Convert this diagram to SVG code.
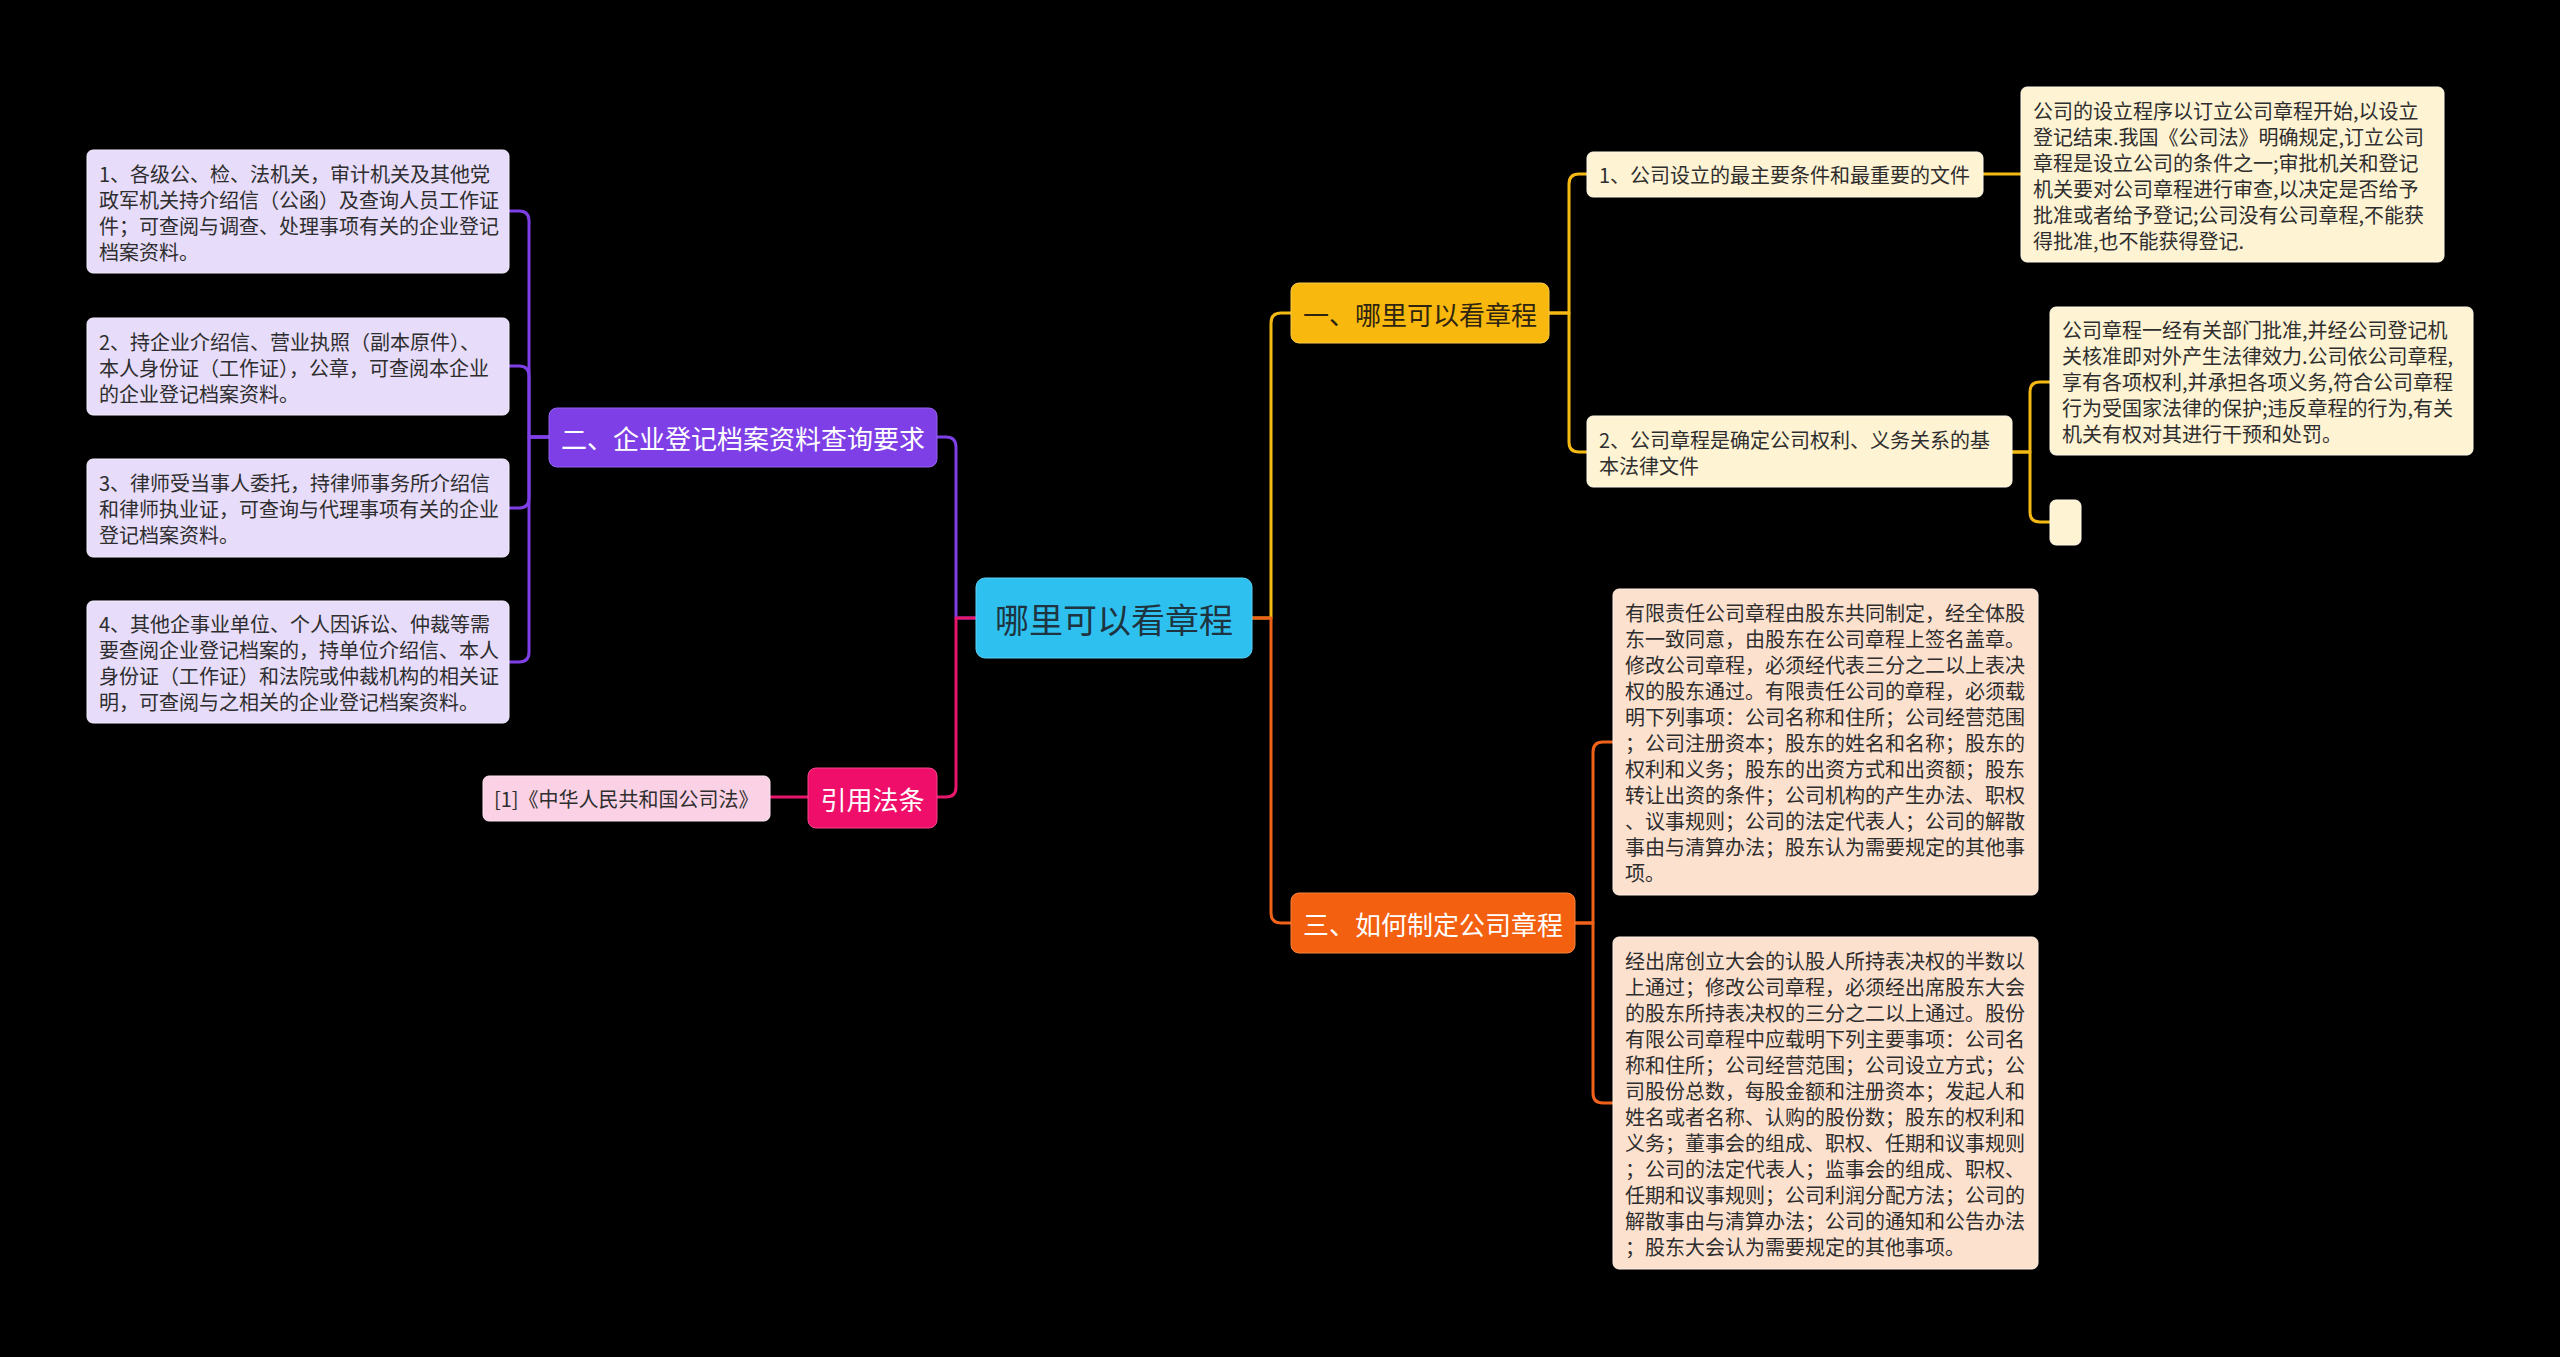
<svg xmlns="http://www.w3.org/2000/svg" width="2560" height="1357" viewBox="0 0 2560 1357">
<style>
text{font-family:"Noto Sans CJK SC","Noto Sans",sans-serif;dominant-baseline:central}
.c{fill:none;stroke-width:3;stroke-linecap:round;stroke-linejoin:round}
.leaf{font-size:20px;fill:#2e2e2e}
.br{font-size:26px;text-anchor:middle}
.lv{fill:#E7DCF9;stroke:#F3EDFD;stroke-width:1}
.cr{fill:#FEF3D3;stroke:#FFF9E8;stroke-width:1}
.pc{fill:#FDE1CF;stroke:#FFEFE4;stroke-width:1}
</style>
<rect width="2560" height="1357" fill="#000"/>
<g id="connectors">
<path class="c" stroke="#7E3FE6" d="M976,618 H956 V447 Q956,437 946,437 H937"/>
<path class="c" stroke="#E8176C" d="M976,618 H956 V787 Q956,797 946,797 H937"/>
<path class="c" stroke="#F5B914" d="M1252,618 H1271 V323 Q1271,313 1281,313 H1291"/>
<path class="c" stroke="#F0621A" d="M1252,618 H1271 V913 Q1271,923 1281,923 H1291"/>
<path class="c" stroke="#7E3FE6" d="M549,437 H529 V221 Q529,211 519,211 H509"/>
<path class="c" stroke="#7E3FE6" d="M549,437 H529 V376 Q529,366 519,366 H509"/>
<path class="c" stroke="#7E3FE6" d="M549,437 H529 V498 Q529,508 519,508 H509"/>
<path class="c" stroke="#7E3FE6" d="M549,437 H529 V652 Q529,662 519,662 H509"/>
<path class="c" stroke="#E8176C" d="M808,797 H770"/>
<path class="c" stroke="#F5B914" d="M1549,313 H1569 V184 Q1569,174 1579,174 H1587"/>
<path class="c" stroke="#F5B914" d="M1549,313 H1569 V442 Q1569,452 1579,452 H1587"/>
<path class="c" stroke="#F5B914" d="M1983,174 H2021"/>
<path class="c" stroke="#F5B914" d="M2012,452 H2030 V392 Q2030,382 2040,382 H2050"/>
<path class="c" stroke="#F5B914" d="M2012,452 H2030 V512 Q2030,522 2040,522 H2050"/>
<path class="c" stroke="#F0621A" d="M1575,923 H1593 V752 Q1593,742 1603,742 H1613"/>
<path class="c" stroke="#F0621A" d="M1575,923 H1593 V1093 Q1593,1103 1603,1103 H1613"/>
</g>
<g id="root">
<rect x="976" y="578" width="276" height="80" rx="9" fill="#2EC1F0" stroke="#5DD0F5" stroke-width="1"/>
<text x="1114" y="618" font-size="34" text-anchor="middle" fill="#1E3440">哪里可以看章程</text>
</g>
<g id="b1">
<rect x="1291" y="283" width="258" height="60" rx="8" fill="#F8B80E" stroke="#FBCB4A" stroke-width="1"/>
<text class="br" x="1420" y="313" fill="#2f2410">一、哪里可以看章程</text>
</g>
<g id="b2">
<rect x="549" y="408" width="388" height="59" rx="8" fill="#7E3FE6" stroke="#9461EC" stroke-width="1"/>
<text class="br" x="743" y="437" fill="#fff">二、企业登记档案资料查询要求</text>
</g>
<g id="b3">
<rect x="1291" y="893" width="284" height="60" rx="8" fill="#F3600F" stroke="#F6823F" stroke-width="1"/>
<text class="br" x="1433" y="923" fill="#fff">三、如何制定公司章程</text>
</g>
<g id="b4">
<rect x="808" y="768" width="129" height="60" rx="8" fill="#EF0F6B" stroke="#F3478D" stroke-width="1"/>
<text class="br" x="872.5" y="798" fill="#fff">引用法条</text>
</g>
<g id="ref1">
<rect x="483" y="776" width="287" height="45" rx="6" fill="#FBD2E5" stroke="#FDE5F0" stroke-width="1"/>
<text class="leaf" x="494" y="798.5">[1]《中华人民共和国公司法》</text>
</g>
<g id="l1">
<rect class="lv" x="87" y="150" width="422" height="123" rx="6"/>
<text class="leaf"><tspan x="99" y="172.5">1、各级公、检、法机关，审计机关及其他党</tspan><tspan x="99" y="198.5">政军机关持介绍信（公函）及查询人员工作证</tspan><tspan x="99" y="224.5">件；可查阅与调查、处理事项有关的企业登记</tspan><tspan x="99" y="250.5">档案资料。</tspan></text>
</g>
<g id="l2">
<rect class="lv" x="87" y="318" width="422" height="97" rx="6"/>
<text class="leaf"><tspan x="99" y="340.5">2、持企业介绍信、营业执照（副本原件）、</tspan><tspan x="99" y="366.5">本人身份证（工作证），公章，可查阅本企业</tspan><tspan x="99" y="392.5">的企业登记档案资料。</tspan></text>
</g>
<g id="l3">
<rect class="lv" x="87" y="459" width="422" height="98" rx="6"/>
<text class="leaf"><tspan x="99" y="482">3、律师受当事人委托，持律师事务所介绍信</tspan><tspan x="99" y="508">和律师执业证，可查询与代理事项有关的企业</tspan><tspan x="99" y="534">登记档案资料。</tspan></text>
</g>
<g id="l4">
<rect class="lv" x="87" y="601" width="422" height="122" rx="6"/>
<text class="leaf"><tspan x="99" y="623">4、其他企事业单位、个人因诉讼、仲裁等需</tspan><tspan x="99" y="649">要查阅企业登记档案的，持单位介绍信、本人</tspan><tspan x="99" y="675">身份证（工作证）和法院或仲裁机构的相关证</tspan><tspan x="99" y="701">明，可查阅与之相关的企业登记档案资料。</tspan></text>
</g>
<g id="r1">
<rect class="cr" x="1587" y="152" width="396" height="45" rx="6"/>
<text class="leaf" x="1599" y="174.5">1、公司设立的最主要条件和最重要的文件</text>
</g>
<g id="r2">
<rect class="cr" x="1587" y="416" width="425" height="71" rx="6"/>
<text class="leaf"><tspan x="1599" y="438.5">2、公司章程是确定公司权利、义务关系的基</tspan><tspan x="1599" y="464.5">本法律文件</tspan></text>
</g>
<g id="r1a">
<rect class="cr" x="2021" y="87" width="423" height="175" rx="6"/>
<text class="leaf"><tspan x="2033" y="109.5">公司的设立程序以订立公司章程开始,以设立</tspan><tspan x="2033" y="135.5">登记结束.我国《公司法》明确规定,订立公司</tspan><tspan x="2033" y="161.5">章程是设立公司的条件之一;审批机关和登记</tspan><tspan x="2033" y="187.5">机关要对公司章程进行审查,以决定是否给予</tspan><tspan x="2033" y="213.5">批准或者给予登记;公司没有公司章程,不能获</tspan><tspan x="2033" y="239.5">得批准,也不能获得登记.</tspan></text>
</g>
<g id="r2a">
<rect class="cr" x="2050" y="307" width="423" height="148" rx="6"/>
<text class="leaf"><tspan x="2062" y="329">公司章程一经有关部门批准,并经公司登记机</tspan><tspan x="2062" y="355">关核准即对外产生法律效力.公司依公司章程,</tspan><tspan x="2062" y="381">享有各项权利,并承担各项义务,符合公司章程</tspan><tspan x="2062" y="407">行为受国家法律的保护;违反章程的行为,有关</tspan><tspan x="2062" y="433">机关有权对其进行干预和处罚。</tspan></text>
</g>
<g id="r2b">
<rect class="cr" x="2050" y="500" width="31" height="45" rx="6"/>
</g>
<g id="r3a">
<rect class="pc" x="1613" y="589" width="425" height="306" rx="6"/>
<text class="leaf"><tspan x="1625" y="612">有限责任公司章程由股东共同制定，经全体股</tspan><tspan x="1625" y="638">东一致同意，由股东在公司章程上签名盖章。</tspan><tspan x="1625" y="664">修改公司章程，必须经代表三分之二以上表决</tspan><tspan x="1625" y="690">权的股东通过。有限责任公司的章程，必须载</tspan><tspan x="1625" y="716">明下列事项：公司名称和住所；公司经营范围</tspan><tspan x="1625" y="742">；公司注册资本；股东的姓名和名称；股东的</tspan><tspan x="1625" y="768">权利和义务；股东的出资方式和出资额；股东</tspan><tspan x="1625" y="794">转让出资的条件；公司机构的产生办法、职权</tspan><tspan x="1625" y="820">、议事规则；公司的法定代表人；公司的解散</tspan><tspan x="1625" y="846">事由与清算办法；股东认为需要规定的其他事</tspan><tspan x="1625" y="872">项。</tspan></text>
</g>
<g id="r3b">
<rect class="pc" x="1613" y="937" width="425" height="332" rx="6"/>
<text class="leaf"><tspan x="1625" y="960">经出席创立大会的认股人所持表决权的半数以</tspan><tspan x="1625" y="986">上通过；修改公司章程，必须经出席股东大会</tspan><tspan x="1625" y="1012">的股东所持表决权的三分之二以上通过。股份</tspan><tspan x="1625" y="1038">有限公司章程中应载明下列主要事项：公司名</tspan><tspan x="1625" y="1064">称和住所；公司经营范围；公司设立方式；公</tspan><tspan x="1625" y="1090">司股份总数，每股金额和注册资本；发起人和</tspan><tspan x="1625" y="1116">姓名或者名称、认购的股份数；股东的权利和</tspan><tspan x="1625" y="1142">义务；董事会的组成、职权、任期和议事规则</tspan><tspan x="1625" y="1168">；公司的法定代表人；监事会的组成、职权、</tspan><tspan x="1625" y="1194">任期和议事规则；公司利润分配方法；公司的</tspan><tspan x="1625" y="1220">解散事由与清算办法；公司的通知和公告办法</tspan><tspan x="1625" y="1246">；股东大会认为需要规定的其他事项。</tspan></text>
</g>
</svg>
